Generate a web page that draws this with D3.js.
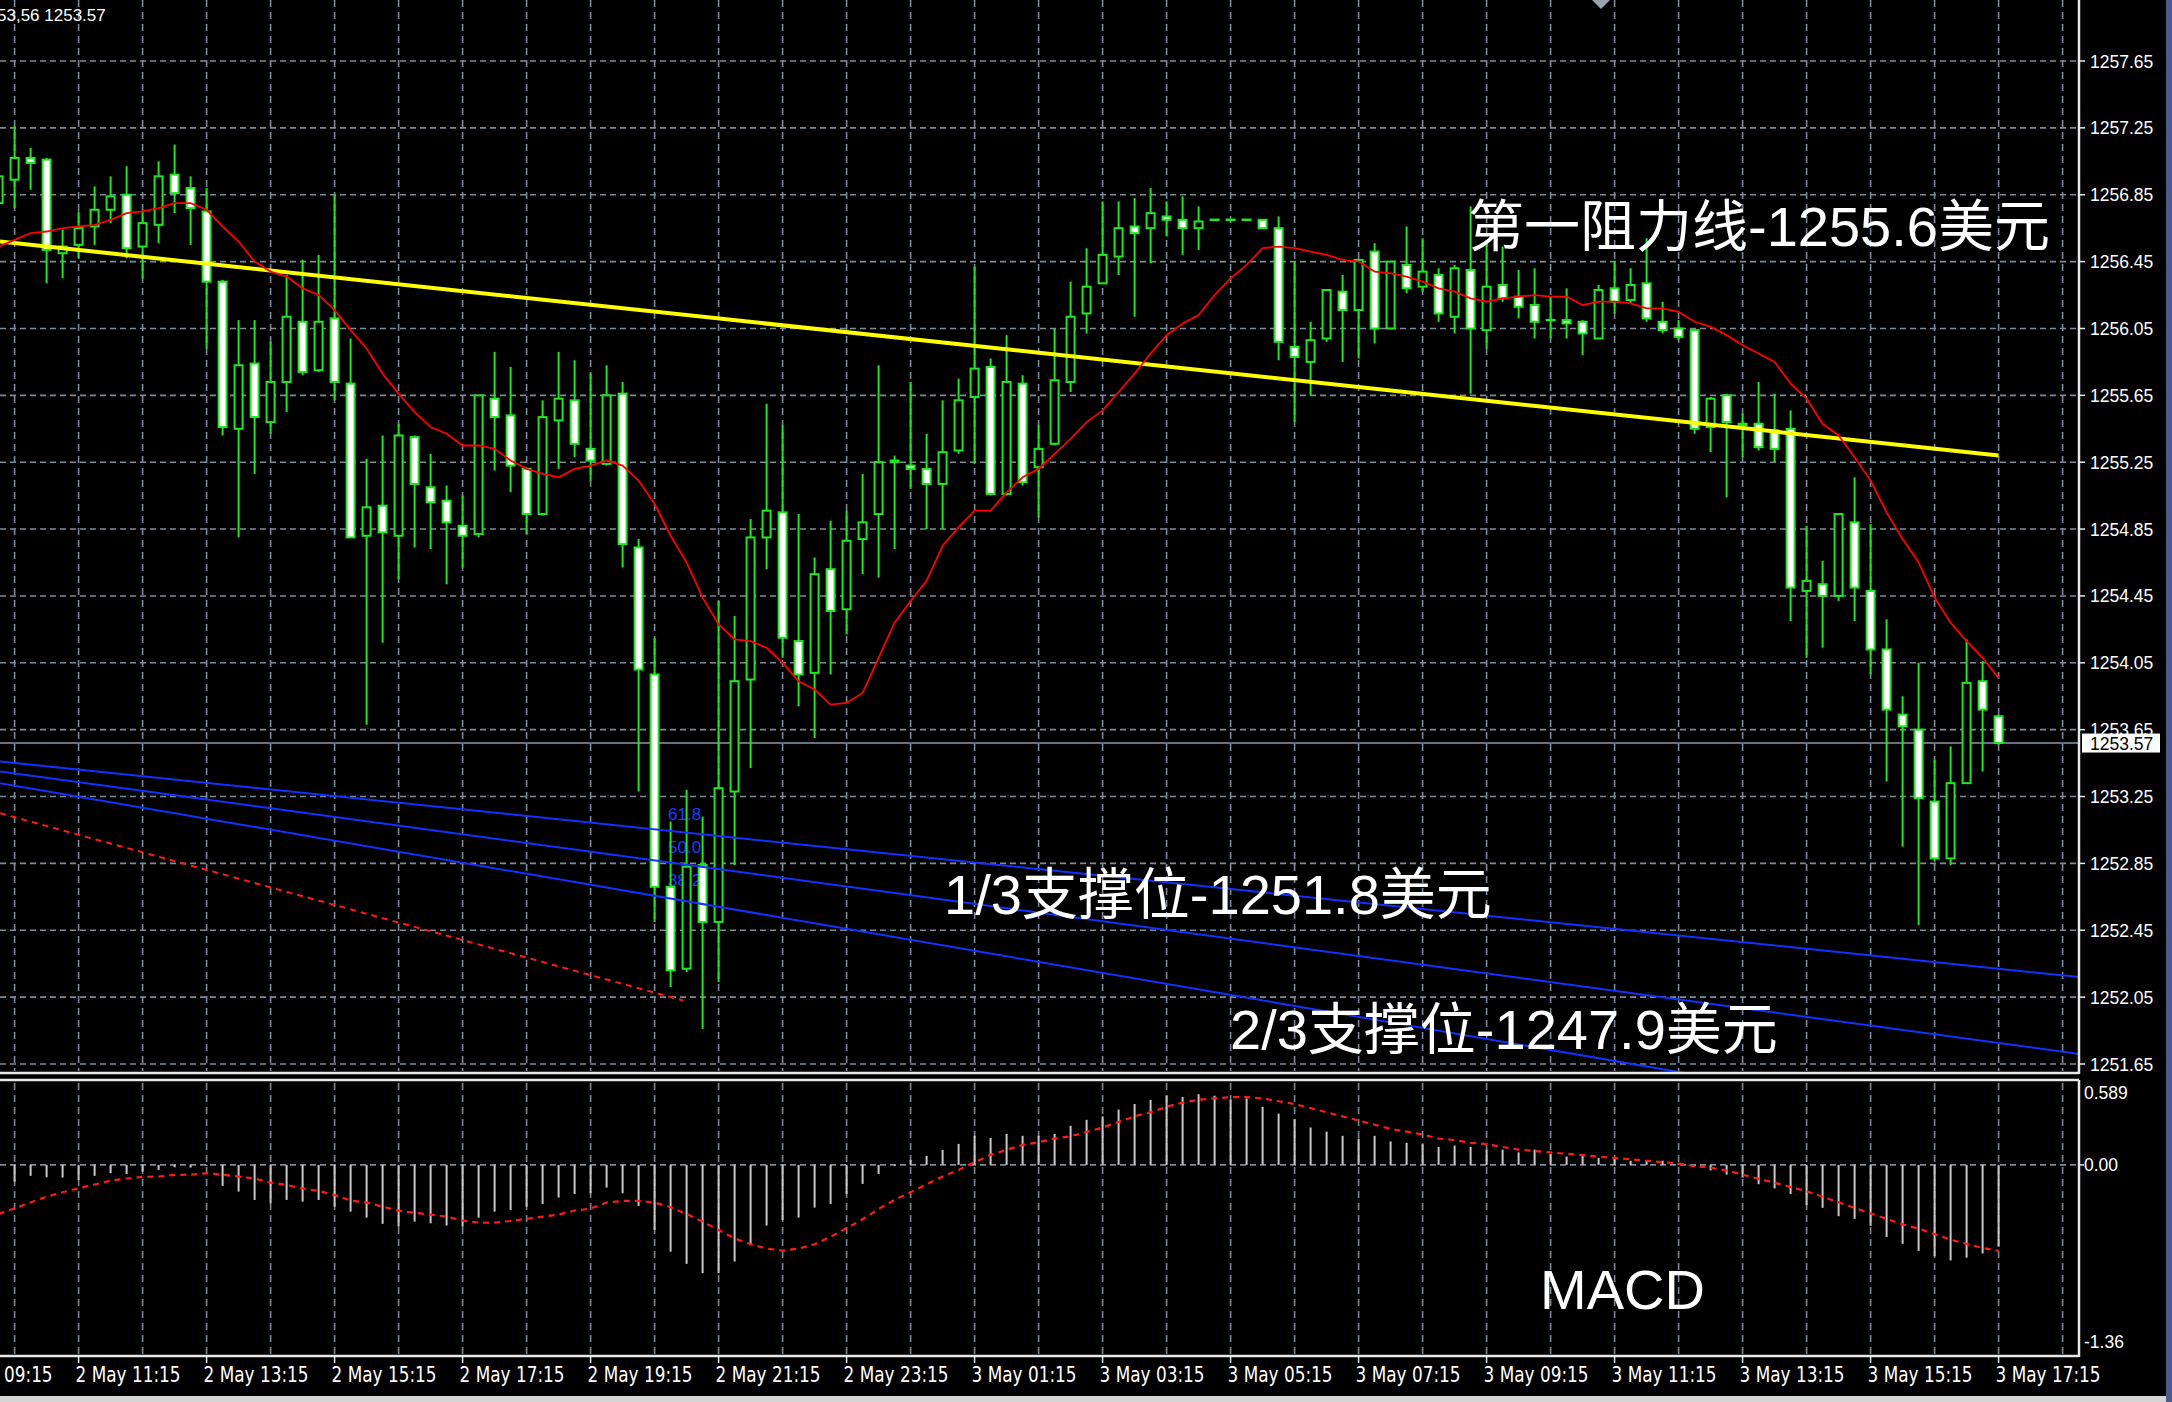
<!DOCTYPE html>
<html><head><meta charset="utf-8">
<script src="https://cdn.jsdelivr.net/npm/d3@7"></script>
<style>html,body{margin:0;padding:0;background:#000;overflow:hidden}</style>
</head><body>
<svg id="c" width="2172" height="1402"></svg>
<script>
// ---------------- DATA ----------------
const startTime = "2018-05-02 10:00"; // first bar (M15)
const open  = [1256.80,1256.94,1257.07,1257.06,1256.50,1256.55,1256.66,1256.76,1256.85,1256.54,1256.67,1256.97,1256.89,1256.75,1256.33,1255.45,1255.84,1255.49,1255.73,1256.09,1255.80,1256.11,1255.72,1254.81,1254.99,1254.81,1255.40,1255.10,1255.02,1254.87,1254.82,1255.63,1255.53,1255.21,1254.94,1255.50,1255.62,1255.33,1255.24,1255.66,1254.74,1253.98,1252.71,1252.22,1252.84,1252.50,1253.28,1253.95,1254.80,1254.95,1254.18,1253.99,1254.61,1254.37,1254.79,1254.94,1255.26,1255.23,1255.21,1255.12,1255.32,1255.64,1255.82,1255.06,1255.72,1255.22,1255.36,1255.73,1256.14,1256.32,1256.48,1256.66,1256.65,1256.72,1256.70,1256.65,1256.70,1256.70,1256.70,1256.70,1256.65,1255.94,1255.85,1255.99,1256.27,1256.16,1256.51,1256.05,1256.43,1256.30,1256.37,1256.12,1256.40,1256.04,1256.31,1256.24,1256.19,1256.10,1256.10,1256.09,1255.99,1256.29,1256.22,1256.32,1256.09,1256.05,1256.04,1255.46,1255.65,1255.48,1255.48,1255.44,1255.45,1254.48,1254.52,1254.45,1254.89,1254.48,1254.13,1253.74,1253.65,1253.22,1252.88,1253.33,1253.94,1253.73];
const high  = [1257.10,1257.26,1257.13,1257.07,1256.64,1256.75,1256.90,1256.96,1257.02,1256.75,1257.05,1257.15,1256.96,1256.89,1256.34,1256.10,1256.10,1255.97,1256.37,1256.46,1256.49,1256.85,1255.99,1255.27,1255.41,1255.48,1255.41,1255.30,1255.11,1255.05,1255.65,1255.91,1255.82,1255.22,1255.62,1255.91,1255.86,1255.78,1255.83,1255.73,1254.79,1254.20,1253.10,1253.29,1253.13,1254.42,1254.33,1254.91,1255.60,1255.47,1254.94,1254.68,1254.90,1254.96,1255.18,1255.83,1255.29,1255.73,1255.42,1255.62,1255.75,1256.42,1255.87,1256.01,1255.77,1255.47,1256.05,1256.33,1256.53,1256.81,1256.81,1256.83,1256.89,1256.81,1256.84,1256.78,1256.70,1256.70,1256.70,1256.70,1256.72,1256.45,1256.09,1256.28,1256.37,1256.46,1256.56,1256.45,1256.66,1256.59,1256.41,1256.43,1256.78,1256.56,1256.54,1256.40,1256.41,1256.24,1256.29,1256.10,1256.31,1256.45,1256.41,1256.59,1256.21,1256.10,1256.05,1255.64,1255.66,1255.54,1255.73,1255.66,1255.56,1254.87,1254.66,1254.94,1255.16,1254.88,1254.31,1253.85,1254.05,1253.47,1253.55,1254.19,1254.06,1253.74];
const low   = [1256.60,1256.77,1256.88,1256.32,1256.35,1256.47,1256.55,1256.68,1256.47,1256.35,1256.56,1256.74,1256.55,1255.93,1255.41,1254.80,1255.18,1255.42,1255.55,1255.77,1255.79,1255.62,1254.80,1253.68,1254.17,1254.55,1254.74,1254.73,1254.52,1254.62,1254.80,1255.20,1255.07,1254.82,1254.93,1255.21,1255.28,1255.14,1255.23,1254.62,1253.28,1252.50,1252.11,1252.20,1251.86,1252.14,1252.84,1253.42,1254.61,1254.08,1253.79,1253.60,1253.98,1254.22,1254.58,1254.56,1254.73,1255.09,1254.85,1254.85,1255.30,1255.24,1255.05,1255.05,1255.11,1254.92,1255.35,1255.67,1256.02,1256.32,1256.37,1256.12,1256.44,1256.60,1256.49,1256.52,1256.70,1256.70,1256.70,1256.65,1255.86,1255.49,1255.65,1255.97,1255.85,1255.87,1255.96,1256.05,1256.26,1256.27,1256.09,1256.02,1255.66,1255.93,1256.21,1256.11,1255.99,1255.99,1255.99,1255.89,1255.99,1256.14,1256.20,1256.09,1256.02,1255.98,1255.42,1255.31,1255.04,1255.28,1255.32,1255.25,1254.30,1254.08,1254.14,1254.42,1254.30,1253.98,1253.34,1252.95,1252.48,1252.86,1252.84,1253.33,1253.40,1253.56];
const close = [1256.96,1257.07,1257.04,1256.52,1256.54,1256.65,1256.76,1256.84,1256.53,1256.68,1256.96,1256.86,1256.77,1256.33,1255.46,1255.83,1255.52,1255.73,1256.12,1255.79,1256.09,1255.73,1254.80,1254.98,1254.83,1255.41,1255.12,1255.01,1254.89,1254.81,1255.65,1255.52,1255.23,1254.94,1255.52,1255.63,1255.36,1255.26,1255.65,1254.76,1254.01,1252.71,1252.21,1252.83,1252.50,1253.30,1253.94,1254.80,1254.96,1254.20,1253.98,1254.58,1254.36,1254.78,1254.89,1255.25,1255.25,1255.21,1255.12,1255.31,1255.62,1255.81,1255.06,1255.73,1255.13,1255.33,1255.74,1256.12,1256.30,1256.49,1256.65,1256.62,1256.74,1256.70,1256.65,1256.69,1256.70,1256.70,1256.70,1256.65,1255.97,1255.88,1255.98,1256.28,1256.16,1256.46,1256.05,1256.45,1256.29,1256.39,1256.14,1256.41,1256.05,1256.30,1256.23,1256.18,1256.09,1256.10,1256.08,1256.02,1256.28,1256.21,1256.31,1256.11,1256.04,1256.00,1255.45,1255.63,1255.49,1255.47,1255.34,1255.33,1254.50,1254.54,1254.45,1254.94,1254.50,1254.13,1253.77,1253.67,1253.24,1252.88,1253.33,1253.93,1253.77,1253.57];
const maLine = [1256.54,1256.58,1256.62,1256.63,1256.65,1256.66,1256.67,1256.70,1256.74,1256.75,1256.77,1256.80,1256.80,1256.76,1256.66,1256.57,1256.45,1256.39,1256.36,1256.29,1256.25,1256.16,1256.04,1255.93,1255.78,1255.66,1255.55,1255.46,1255.42,1255.35,1255.35,1255.33,1255.26,1255.21,1255.18,1255.16,1255.21,1255.23,1255.26,1255.23,1255.14,1255.00,1254.81,1254.65,1254.44,1254.28,1254.19,1254.18,1254.14,1254.05,1253.94,1253.89,1253.80,1253.81,1253.87,1254.08,1254.29,1254.42,1254.54,1254.75,1254.86,1254.96,1254.96,1255.07,1255.16,1255.21,1255.30,1255.39,1255.49,1255.56,1255.67,1255.78,1255.90,1256.01,1256.08,1256.13,1256.25,1256.35,1256.43,1256.53,1256.54,1256.53,1256.51,1256.49,1256.46,1256.45,1256.39,1256.38,1256.36,1256.33,1256.29,1256.27,1256.23,1256.21,1256.23,1256.24,1256.25,1256.24,1256.24,1256.19,1256.21,1256.21,1256.20,1256.17,1256.17,1256.15,1256.09,1256.06,1256.01,1255.95,1255.90,1255.85,1255.72,1255.63,1255.48,1255.41,1255.28,1255.14,1254.95,1254.79,1254.65,1254.44,1254.29,1254.18,1254.08,1253.96];
const macdHist = [-0.168,-0.120,-0.079,-0.089,-0.091,-0.108,-0.079,-0.060,-0.065,-0.048,-0.036,-0.017,-0.019,-0.007,-0.151,-0.192,-0.252,-0.276,-0.252,-0.264,-0.252,-0.300,-0.336,-0.379,-0.424,-0.444,-0.408,-0.420,-0.436,-0.444,-0.379,-0.336,-0.324,-0.300,-0.281,-0.235,-0.209,-0.204,-0.163,-0.204,-0.295,-0.468,-0.624,-0.712,-0.779,-0.779,-0.695,-0.576,-0.436,-0.396,-0.379,-0.307,-0.281,-0.209,-0.137,-0.065,-0.007,0.036,0.065,0.108,0.151,0.209,0.194,0.223,0.209,0.209,0.223,0.281,0.324,0.349,0.398,0.438,0.468,0.498,0.488,0.508,0.498,0.468,0.478,0.418,0.369,0.329,0.269,0.239,0.209,0.189,0.209,0.169,0.159,0.149,0.129,0.139,0.129,0.110,0.110,0.090,0.110,0.080,0.060,0.070,0.050,0.050,0.030,0.030,0.030,0.010,-0.010,-0.040,-0.070,-0.090,-0.139,-0.169,-0.209,-0.289,-0.309,-0.369,-0.388,-0.438,-0.518,-0.568,-0.618,-0.657,-0.687,-0.667,-0.637,-0.588];
const macdSignal = [-0.353,-0.312,-0.271,-0.228,-0.197,-0.168,-0.141,-0.113,-0.098,-0.086,-0.084,-0.072,-0.070,-0.060,-0.070,-0.084,-0.098,-0.127,-0.144,-0.170,-0.187,-0.216,-0.257,-0.271,-0.300,-0.329,-0.345,-0.357,-0.372,-0.400,-0.415,-0.415,-0.403,-0.388,-0.372,-0.357,-0.329,-0.314,-0.271,-0.259,-0.259,-0.271,-0.305,-0.353,-0.408,-0.468,-0.528,-0.571,-0.602,-0.616,-0.602,-0.571,-0.516,-0.456,-0.391,-0.317,-0.252,-0.197,-0.139,-0.084,-0.036,0.019,0.072,0.108,0.144,0.163,0.189,0.206,0.237,0.269,0.309,0.349,0.378,0.418,0.448,0.468,0.478,0.488,0.488,0.478,0.458,0.438,0.408,0.378,0.349,0.319,0.289,0.259,0.239,0.219,0.189,0.179,0.159,0.149,0.129,0.110,0.100,0.090,0.080,0.070,0.060,0.050,0.040,0.030,0.020,0.010,-0.010,-0.020,-0.040,-0.070,-0.100,-0.129,-0.159,-0.189,-0.229,-0.269,-0.309,-0.349,-0.388,-0.428,-0.458,-0.498,-0.538,-0.568,-0.598,-0.618];
const priceTicks = [1257.65,1257.25,1256.85,1256.45,1256.05,1255.65,1255.25,1254.85,1254.45,1254.05,1253.65,1253.25,1252.85,1252.45,1252.05,1251.65];
const macdTicks = [0.589, 0.00, -1.36];
const macdTickText = ["0.589","0.00","-1.36"];
const timeTicks = ["2 May 09:15","2 May 11:15","2 May 13:15","2 May 15:15","2 May 17:15","2 May 19:15","2 May 21:15","2 May 23:15","3 May 01:15","3 May 03:15","3 May 05:15","3 May 07:15","3 May 09:15","3 May 11:15","3 May 13:15","3 May 15:15","3 May 17:15"];
const lastPrice = 1253.57;
const headerText = "53,56 1253.57";
// drawn objects: [bar index, price]
const trendYellow = [[0.09,1256.57],[125,1255.29]];
const fiboLines = [[[0.09,1253.46],[130.03,1252.17]],[[0.09,1253.40],[130.03,1251.71]],[[0.09,1253.33],[130.03,1251.19]]];
const redDashed = [[0.09,1253.15],[42.78,1252.03]];
const fiboLabels = ["61.8","50.0","38.2"];
const notes = ["第一阻力线-1255.6美元","1/3支撑位-1251.8美元","2/3支撑位-1247.9美元"];
const macdTitle = "MACD";

// ---------------- LAYOUT ----------------
const svg = d3.select("#c");
const axisX = 2079, priceBottom = 1073, macdTop = 1080, macdBottom = 1356;
const parseT = d3.timeParse("%Y-%m-%d %H:%M");
const t0 = parseT(startTime);
const times = open.map((d,i)=>d3.timeMinute.offset(t0, 15*i));
const xi = d3.scaleLinear().domain([0, open.length-1]).range([-1.4, 1998.6]);
const idxOf = t => (t - t0) / (15*60000);
const y = d3.scaleLinear().domain([1251.65,1257.65]).range([1064,61]);
const yM = d3.scaleLinear().domain([-1.36,0.589]).range([1354,1083]);
const GREEN = "#22e622", GRID = "#7d8b99";
const fontLat = "'Liberation Sans', Arial, 'Noto Sans CJK SC', sans-serif";

svg.append("rect").attr("width",2172).attr("height",1402).attr("fill","#000");
const defs = svg.append("defs");
defs.append("clipPath").attr("id","cp").append("rect").attr("x",0).attr("y",0).attr("width",axisX).attr("height",priceBottom);
defs.append("clipPath").attr("id","cm").append("rect").attr("x",0).attr("y",macdTop+2).attr("width",axisX).attr("height",macdBottom-macdTop-3);

// grid
const gGrid = svg.append("g");
const gridIdx = d3.range(1, 130, 4);
gGrid.selectAll(".vg").data(gridIdx).join("line")
  .attr("x1",d=>xi(d)).attr("x2",d=>xi(d)).attr("y1",0).attr("y2",priceBottom-2)
  .attr("stroke",GRID).attr("stroke-width",1.6).attr("stroke-dasharray","7,5");
gGrid.selectAll(".vg2").data(gridIdx).join("line")
  .attr("x1",d=>xi(d)).attr("x2",d=>xi(d)).attr("y1",macdTop+3).attr("y2",macdBottom-2)
  .attr("stroke",GRID).attr("stroke-width",1.6).attr("stroke-dasharray","7,5");
gGrid.selectAll(".hg").data(priceTicks).join("line")
  .attr("x1",0).attr("x2",axisX).attr("y1",d=>y(d)).attr("y2",d=>y(d))
  .attr("stroke",GRID).attr("stroke-width",1.6).attr("stroke-dasharray","6,4");
gGrid.append("line").attr("x1",0).attr("x2",axisX).attr("y1",yM(0)).attr("y2",yM(0))
  .attr("stroke",GRID).attr("stroke-width",1.6).attr("stroke-dasharray","6,4");

// current price line
svg.append("line").attr("x1",0).attr("x2",axisX).attr("y1",y(lastPrice)).attr("y2",y(lastPrice))
  .attr("stroke","#8a98a8").attr("stroke-width",1.5);

// price panel content
const gP = svg.append("g").attr("clip-path","url(#cp)");
// fibo labels (behind candles)
const fl = gP.append("g").attr("font-family",fontLat).attr("font-size",17).attr("fill","#1f3cff");
fiboLabels.forEach((t,k)=>{ fl.append("text").attr("x",668).attr("y",820+k*33).text(t); });

// candles
const idx = d3.range(open.length);
gP.selectAll(".wick").data(idx).join("line")
  .attr("x1",i=>xi(i)).attr("x2",i=>xi(i)).attr("y1",i=>y(high[i])).attr("y2",i=>y(low[i]))
  .attr("stroke",GREEN).attr("stroke-width",2);
idx.forEach(i=>{
  const top = y(Math.max(open[i],close[i])), bot = y(Math.min(open[i],close[i]));
  const bear = close[i] < open[i];
  if (bot - top < 1.5) {
    gP.append("line").attr("x1",xi(i)-5).attr("x2",xi(i)+5).attr("y1",(top+bot)/2).attr("y2",(top+bot)/2)
      .attr("stroke",GREEN).attr("stroke-width",2.5);
  } else {
    gP.append("rect").attr("x",xi(i)-4).attr("y",top).attr("width",8).attr("height",bot-top)
      .attr("fill",bear?"#ffffff":"#000000").attr("stroke",GREEN).attr("stroke-width",2);
  }
});

// lines on top
const lineP = d3.line().x(d=>xi(d[0])).y(d=>y(d[1]));
fiboLines.forEach(l=>{
  gP.append("path").attr("d",lineP(l)).attr("fill","none").attr("stroke","#1430ff").attr("stroke-width",2);
});
gP.append("path").attr("d",lineP(redDashed)).attr("fill","none").attr("stroke","#ff1a1a")
  .attr("stroke-width",2).attr("stroke-dasharray","6,5");
gP.append("path").attr("d",lineP(trendYellow)).attr("fill","none").attr("stroke","#ffff00").attr("stroke-width",4);
gP.append("path").attr("d",d3.line().x((d,i)=>xi(i)).y(d=>y(d))(maLine)).attr("fill","none")
  .attr("stroke","#ff0000").attr("stroke-width",1.8);

// MACD panel
const gM = svg.append("g").attr("clip-path","url(#cm)");
gM.selectAll(".hb").data(idx).join("line")
  .attr("x1",i=>xi(i)).attr("x2",i=>xi(i)).attr("y1",yM(0)).attr("y2",i=>yM(macdHist[i]))
  .attr("stroke","#c8c8c8").attr("stroke-width",2);
gM.append("path").attr("d",d3.line().x((d,i)=>xi(i)).y(d=>yM(d))(macdSignal)).attr("fill","none")
  .attr("stroke","#ff1a1a").attr("stroke-width",2.2).attr("stroke-dasharray","6,5");

// frames
const fr = svg.append("g").attr("stroke","#e8e8e8").attr("stroke-width",2.5);
fr.append("line").attr("x1",axisX).attr("x2",axisX).attr("y1",0).attr("y2",priceBottom+1);
fr.append("line").attr("x1",0).attr("x2",axisX).attr("y1",priceBottom).attr("y2",priceBottom);
fr.append("line").attr("x1",0).attr("x2",axisX).attr("y1",macdTop).attr("y2",macdTop);
fr.append("line").attr("x1",axisX).attr("x2",axisX).attr("y1",macdTop).attr("y2",macdBottom+1);
fr.append("line").attr("x1",0).attr("x2",axisX).attr("y1",macdBottom).attr("y2",macdBottom);

// price axis
const pa = svg.append("g");
pa.selectAll(".pt").data(priceTicks).join("line").attr("x1",axisX).attr("x2",axisX+6)
  .attr("y1",d=>y(d)).attr("y2",d=>y(d)).attr("stroke","#e8e8e8").attr("stroke-width",1.5);
pa.selectAll(".pl").data(priceTicks).join("text").attr("x",axisX+11).attr("y",d=>y(d)+6.5)
  .attr("font-family",fontLat).attr("font-size",17.5).attr("fill","#fff").text(d=>d.toFixed(2));
const lp = svg.append("g");
lp.append("rect").attr("x",2082).attr("y",y(lastPrice)-9.5).attr("width",78).attr("height",19).attr("fill","#fff");
lp.append("text").attr("x",axisX+11).attr("y",y(lastPrice)+6.5).attr("font-family",fontLat)
  .attr("font-size",17.5).attr("fill","#000").text(lastPrice.toFixed(2));
// macd axis
pa.selectAll(".mt").data(macdTicks.slice(1,2)).join("line").attr("x1",axisX).attr("x2",axisX+5)
  .attr("y1",d=>yM(d)).attr("y2",d=>yM(d)).attr("stroke","#e8e8e8").attr("stroke-width",1.5);
const mLabY = [1099, yM(0)+6.5, 1348];
macdTicks.forEach((v,k)=>{
  pa.append("text").attr("x",axisX+5).attr("y",mLabY[k]).attr("font-family",fontLat)
    .attr("font-size",17.5).attr("fill","#fff").text(macdTickText[k]);
});

// time axis
const ta = svg.append("g");
const parseL = d3.timeParse("%Y %d %b %H:%M");
timeTicks.forEach(lbl=>{
  const ix = idxOf(parseL("2018 " + lbl));
  ta.append("line").attr("x1",xi(ix)).attr("x2",xi(ix)).attr("y1",macdBottom).attr("y2",macdBottom+7)
    .attr("stroke","#e8e8e8").attr("stroke-width",1.5);
  ta.append("text").attr("x",xi(ix)-3).attr("y",1382)
    .attr("font-family","'Liberation Sans Narrow','DejaVu Sans Condensed',sans-serif")
    .attr("font-size",22).attr("fill","#fff").attr("textLength",105).attr("lengthAdjust","spacingAndGlyphs")
    .text(lbl);
});

// header
svg.append("text").attr("x",-3).attr("y",21).attr("font-family",fontLat).attr("font-size",17)
  .attr("fill","#fff").text(headerText);
svg.append("path").attr("d","M1592,0 L1610,0 L1601,9 Z").attr("fill","#9aa4b0");

// annotations
const an = svg.append("g").attr("font-family",fontLat).attr("font-size",56).attr("fill","#fff");
an.append("text").attr("x",1468).attr("y",246).text(notes[0]);
an.append("text").attr("x",944).attr("y",914).text(notes[1]);
an.append("text").attr("x",1230).attr("y",1049).text(notes[2]);
an.append("text").attr("x",1540).attr("y",1309).text(macdTitle);

// window edges
svg.append("rect").attr("x",2166).attr("y",0).attr("width",6).attr("height",1402).attr("fill","#4b5d8f");
svg.append("rect").attr("x",0).attr("y",1396).attr("width",2166).attr("height",6).attr("fill","#d4d4d4");
</script>
</body></html>
